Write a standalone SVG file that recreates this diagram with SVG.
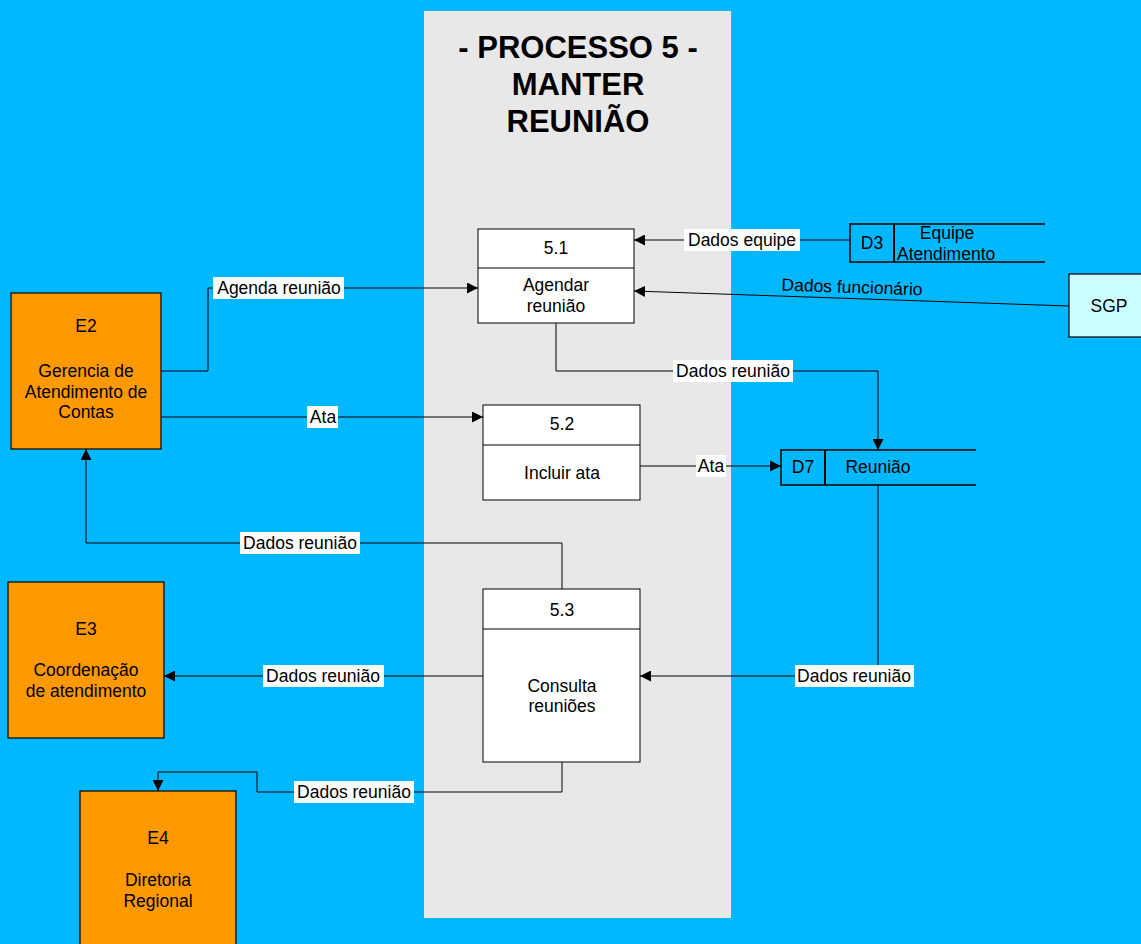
<svg xmlns="http://www.w3.org/2000/svg" width="1141" height="944" viewBox="0 0 1141 944">
  <defs>
    <marker id="arrow" viewBox="0 0 10 10" refX="10" refY="5" markerWidth="11" markerHeight="11" markerUnits="userSpaceOnUse" orient="auto">
      <path d="M0,0 L10,5 L0,10 z" fill="#000"/>
    </marker>
    <style>
      text { font-family: "Liberation Sans", Arial, sans-serif; font-size: 17.5px; fill: #000; text-anchor: middle; }
      .title { font-size: 31px; font-weight: bold; }
      .entity { fill: #FF9900; stroke: #000; stroke-width: 1.2; }
      .proc { fill: #FFFFFF; stroke: #000; stroke-width: 1; }
      .ext { fill: #CCFFFF; stroke: #000; stroke-width: 1.2; }
      .store { fill: none; stroke: #000; stroke-width: 1.5; }
      .flow { fill: none; stroke: #000; stroke-width: 1; marker-end: url(#arrow); }
      .lbl { fill: #FFFFFF; stroke: none; }
      .left { text-anchor: start; }
    </style>
  </defs>

  <!-- background and process boundary -->
  <rect x="0" y="0" width="1141" height="944" fill="#00B8FF"/>
  <rect x="424" y="11" width="307" height="907" fill="#E8E8E8"/>

  <g id="title">
    <text class="title" x="578" y="58">- PROCESSO 5 -</text>
    <text class="title" x="578" y="95">MANTER</text>
    <text class="title" x="578" y="132">REUNIÃO</text>
  </g>

  <!-- data flows -->
  <g id="connectors">
    <!-- D3 -> 5.1 -->
    <path class="flow" d="M850,240 L634,240"/>
    <rect class="lbl" x="684" y="229" width="116" height="22"/>
    <text x="742" y="246">Dados equipe</text>

    <!-- SGP -> 5.1 -->
    <path class="flow" d="M1069,306 L634,291"/>
    <text x="852" y="293" transform="rotate(2 852 287)">Dados funcionário</text>

    <!-- E2 -> 5.1 -->
    <path class="flow" d="M161,371 L208,371 L208,288 L478,288"/>
    <rect class="lbl" x="213" y="277" width="131" height="22"/>
    <text x="279" y="294">Agenda reunião</text>

    <!-- E2 -> 5.2 -->
    <path class="flow" d="M161,417 L483,417"/>
    <rect class="lbl" x="307" y="406" width="31" height="22"/>
    <text x="323" y="423">Ata</text>

    <!-- 5.1 -> D7 -->
    <path class="flow" d="M556,323 L556,371 L878,371 L878,450"/>
    <rect class="lbl" x="673" y="360" width="120" height="22"/>
    <text x="733" y="377">Dados reunião</text>

    <!-- 5.2 -> D7 -->
    <path class="flow" d="M640,466 L781,466"/>
    <rect class="lbl" x="696" y="455" width="30" height="22"/>
    <text x="711" y="472">Ata</text>

    <!-- 5.3 -> E2 -->
    <path class="flow" d="M562,589 L562,543 L86,543 L86,449"/>
    <rect class="lbl" x="240" y="532" width="120" height="22"/>
    <text x="300" y="549">Dados reunião</text>

    <!-- D7 -> 5.3 -->
    <path class="flow" d="M878,485 L878,676 L640,676"/>
    <rect class="lbl" x="795" y="665" width="119" height="22"/>
    <text x="854" y="682">Dados reunião</text>

    <!-- 5.3 -> E3 -->
    <path class="flow" d="M483,676 L164,676"/>
    <rect class="lbl" x="263" y="665" width="121" height="22"/>
    <text x="323" y="682">Dados reunião</text>

    <!-- 5.3 -> E4 -->
    <path class="flow" d="M562,762 L562,792 L257,792 L257,772 L158,772 L158,791"/>
    <rect class="lbl" x="294" y="781" width="120" height="22"/>
    <text x="354" y="798">Dados reunião</text>
  </g>

  <!-- processes -->
  <g id="p5-1">
    <rect class="proc" x="478" y="229" width="156" height="94"/>
    <line x1="478" y1="268" x2="634" y2="268" stroke="#000"/>
    <text x="556" y="254">5.1</text>
    <text x="556" y="291">Agendar</text>
    <text x="556" y="312">reunião</text>
  </g>
  <g id="p5-2">
    <rect class="proc" x="483" y="405" width="157" height="95"/>
    <line x1="483" y1="445" x2="640" y2="445" stroke="#000"/>
    <text x="562" y="430">5.2</text>
    <text x="562" y="479">Incluir ata</text>
  </g>
  <g id="p5-3">
    <rect class="proc" x="483" y="589" width="157" height="173"/>
    <line x1="483" y1="629" x2="640" y2="629" stroke="#000"/>
    <text x="562" y="616">5.3</text>
    <text x="562" y="692">Consulta</text>
    <text x="562" y="712">reuniões</text>
  </g>

  <!-- external entities -->
  <g id="e2">
    <rect class="entity" x="11" y="293" width="150" height="156"/>
    <text x="86" y="332">E2</text>
    <text x="86" y="377">Gerencia de</text>
    <text x="86" y="398">Atendimento de</text>
    <text x="86" y="418">Contas</text>
  </g>
  <g id="e3">
    <rect class="entity" x="8" y="582" width="156" height="156"/>
    <text x="86" y="635">E3</text>
    <text x="86" y="676">Coordenação</text>
    <text x="86" y="697">de atendimento</text>
  </g>
  <g id="e4">
    <rect class="entity" x="80" y="791" width="156" height="160"/>
    <text x="158" y="844">E4</text>
    <text x="158" y="886">Diretoria</text>
    <text x="158" y="907">Regional</text>
  </g>
  <g id="sgp">
    <rect class="ext" x="1069" y="274" width="80" height="63"/>
    <text x="1109" y="312">SGP</text>
  </g>

  <!-- data stores -->
  <g id="d3">
    <path class="store" d="M1045,224 L850,224 L850,262 L1045,262"/>
    <line x1="894" y1="224" x2="894" y2="262" stroke="#000" stroke-width="2"/>
    <text x="872" y="249">D3</text>
    <text x="947" y="239">Equipe</text>
    <text class="left" x="897" y="260">Atendimento</text>
  </g>
  <g id="d7">
    <path class="store" d="M976,450 L781,450 L781,485 L976,485"/>
    <line x1="825" y1="450" x2="825" y2="485" stroke="#000" stroke-width="2"/>
    <text x="803" y="473">D7</text>
    <text x="878" y="473">Reunião</text>
  </g>
</svg>
